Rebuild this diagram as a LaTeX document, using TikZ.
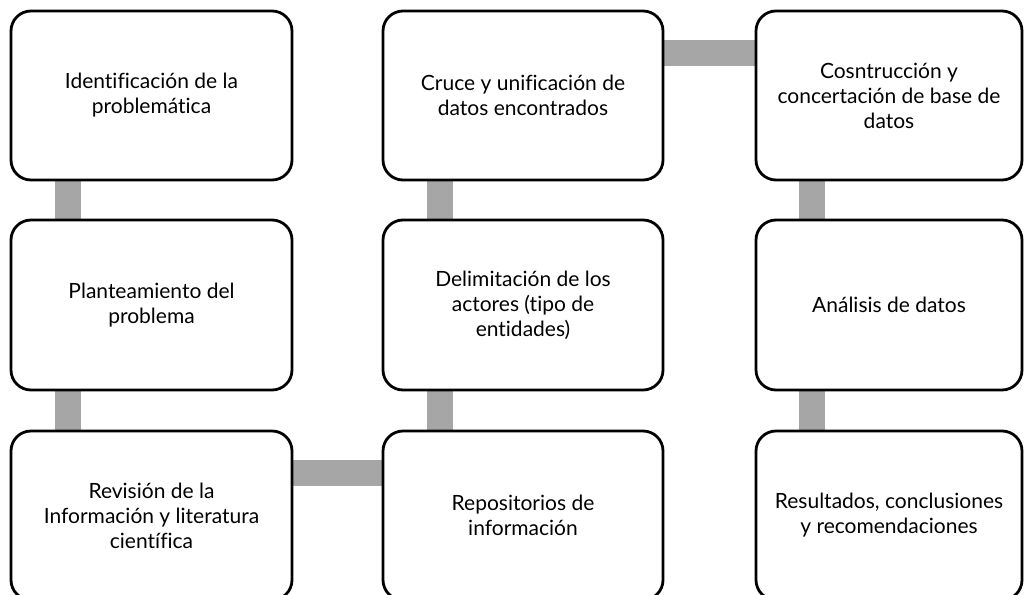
\documentclass[tikz,border=0pt]{standalone}
\usepackage{fontspec}
\setmainfont[Ligatures={NoCommon,NoRequired,NoContextual}]{Lato}
\usetikzlibrary{calc,backgrounds}
\begin{document}
\begin{tikzpicture}[x=1pt,y=-1pt,
  stepbox/.style={draw=black,line width=2.8pt,rounded corners=20pt,fill=white,
    align=center,inner sep=0pt,font=\fontsize{21}{25}\selectfont,anchor=center},
  conn/.style={draw={rgb,255:red,166;green,166;blue,166},line width=26pt}]
\useasboundingbox (0,0) rectangle (1024,594);
\begin{scope}
\clip (0,0) rectangle (1024,594);
\node[stepbox,minimum width=281pt,minimum height=169pt] (b1) at (151.5,95.5) {Identificación de la\\problemática};
\node[stepbox,minimum width=281pt,minimum height=170pt] (b2) at (151.5,305) {Planteamiento del\\problema};
\node[stepbox,minimum width=281pt,minimum height=169pt] (b3) at (151.5,515.5) {Revisión de la\\Información y literatura\\científica};
\node[stepbox,minimum width=280pt,minimum height=169pt] (b4) at (523,95.5) {Cruce y unificación de\\datos encontrados};
\node[stepbox,minimum width=280pt,minimum height=170pt] (b5) at (523,305) {Delimitación de los\\actores (tipo de\\entidades)};
\node[stepbox,minimum width=280pt,minimum height=169pt] (b6) at (523,515.5) {Repositorios de\\información};
\node[stepbox,minimum width=266pt,minimum height=169pt] (b7) at (889,95.5) {Cosntrucción y\\concertación de base de\\datos};
\node[stepbox,minimum width=266pt,minimum height=170pt] (b8) at (889,305) {Análisis de datos};
\node[stepbox,minimum width=266pt,minimum height=169pt] (b9) at (889,515.5) {Resultados, conclusiones\\y recomendaciones};
\begin{scope}[on background layer]
\draw[conn] ($(b1.south west)+(58,0)$) -- ($(b2.north west)+(58,0)$);
\draw[conn] ($(b2.south west)+(58,0)$) -- ($(b3.north west)+(58,0)$);
\draw[conn] ($(b3.east)+(0,-42.5)$) -- ($(b6.west)+(0,-42.5)$);
\draw[conn] ($(b6.north west)+(58,0)$) -- ($(b5.south west)+(58,0)$);
\draw[conn] ($(b5.north west)+(58,0)$) -- ($(b4.south west)+(58,0)$);
\draw[conn] ($(b4.east)+(0,-42.5)$) -- ($(b7.west)+(0,-42.5)$);
\draw[conn] ($(b7.south west)+(57,0)$) -- ($(b8.north west)+(57,0)$);
\draw[conn] ($(b8.south west)+(57,0)$) -- ($(b9.north west)+(57,0)$);
\end{scope}
\end{scope}
\end{tikzpicture}
\end{document}
